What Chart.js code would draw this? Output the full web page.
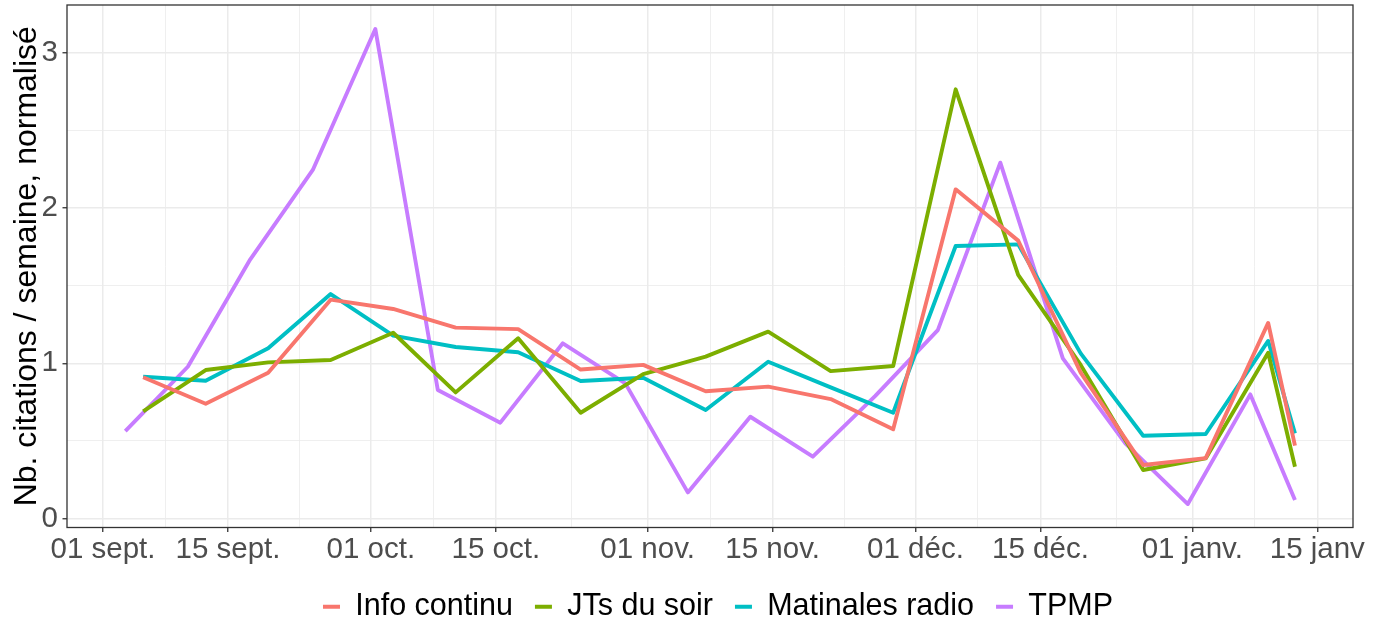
<!DOCTYPE html>
<html>
<head>
<meta charset="utf-8">
<script src="https://cdn.jsdelivr.net/npm/chart.js@4.4.0/dist/chart.umd.min.js"></script>
<style>
 html,body{margin:0;padding:0;background:#fff}
 canvas{display:block}
</style>
</head>
<body>
<canvas id="chart" width="1379" height="621"></canvas>
<script>
/* DATA */
const weeksMedia=["2021-09-05T12:00","2021-09-12T12:00","2021-09-19T12:00","2021-09-26T12:00","2021-10-03T12:00",
 "2021-10-10T12:00","2021-10-17T12:00","2021-10-24T12:00","2021-10-31T12:00","2021-11-07T12:00",
 "2021-11-14T12:00","2021-11-21T12:00","2021-11-28T12:00","2021-12-05T12:00","2021-12-12T12:00",
 "2021-12-19T12:00","2021-12-26T12:00","2022-01-02T12:00","2022-01-09T12:00","2022-01-12T12:00"];
const weeksTpmp=["2021-09-03T12:00","2021-09-10T12:00","2021-09-17T12:00","2021-09-24T12:00","2021-10-01T12:00",
 "2021-10-08T12:00","2021-10-15T12:00","2021-10-22T12:00","2021-10-29T12:00","2021-11-05T12:00",
 "2021-11-12T12:00","2021-11-19T12:00","2021-11-26T12:00","2021-12-03T12:00","2021-12-10T12:00",
 "2021-12-17T12:00","2021-12-24T12:00","2021-12-31T12:00","2022-01-07T12:00","2022-01-12T12:00"];

const infoContinu=[0.91,0.74,0.94,1.41,1.35,1.23,1.22,0.96,0.99,0.82,0.85,0.77,0.575,2.12,1.79,0.94,0.345,0.39,1.26,0.47];
const jtsSoir=[0.69,0.957,1.006,1.021,1.197,0.813,1.161,0.682,0.93,1.043,1.204,0.95,0.983,2.764,1.569,0.99,0.313,0.388,1.068,0.334];
const matinales=[0.914,0.888,1.097,1.446,1.178,1.105,1.071,0.886,0.907,0.699,1.01,0.845,0.682,1.755,1.766,1.064,0.534,0.545,1.144,0.549];
const tpmp=[0.564,0.978,1.67,2.245,3.153,0.828,0.618,1.129,0.871,0.169,0.656,0.399,0.79,1.214,2.292,1.032,0.485,0.094,0.8,0.12];

const seriesNames=["Info continu","JTs du soir","Matinales radio","TPMP"];
const seriesColors=["#F8766D","#7CAE00","#00BFC4","#C77CFF"];

const tickDates=["2021-09-01","2021-09-15","2021-10-01","2021-10-15","2021-11-01","2021-11-15","2021-12-01","2021-12-15","2022-01-01","2022-01-15"];
const tickLabels=["01 sept.","15 sept.","01 oct.","15 oct.","01 nov.","15 nov.","01 déc.","15 déc.","01 janv.","15 janv"];
const yTicks=[0,1,2,3];

/* HELPERS */
const T0=Date.parse("2021-09-01T00:00:00Z");
const dayOf=s=>(Date.parse(s.length>10?s+":00Z":s+"T00:00:00Z")-T0)/864e5;
const pts=(dates,vals)=>vals.map((v,i)=>({x:dayOf(dates[i]),y:v}));

const majorX=tickDates.map(dayOf);
const minorX=majorX.slice(1).map((d,i)=>(d+majorX[i])/2);
const allX=majorX.concat(minorX).sort((a,b)=>a-b);
const minorY=yTicks.slice(1).map(v=>v-0.5);
const allY=yTicks.concat(minorY).sort((a,b)=>a-b);

const FONT="'Liberation Sans', Arial, sans-serif";
const isMajorX=v=>majorX.indexOf(v)>=0;
const isMajorY=v=>yTicks.indexOf(v)>=0;

/* panel border on top, legend nudged to where ggplot puts it */
const panelBorder={
 id:"panelBorder",
 afterLayout(c){
  const l=c.legend;
  if(!l) return;
  l.left+=8; l.right+=8;
  l.top+=1; l.bottom+=1;
 },
 afterDraw(c){
  const a=c.chartArea, ctx=c.ctx;
  ctx.save();
  ctx.strokeStyle="#333333";
  ctx.lineWidth=1.3;
  ctx.strokeRect(a.left,a.top,a.right-a.left,a.bottom-a.top);
  ctx.restore();
 }
};

const data=[pts(weeksMedia,infoContinu),pts(weeksMedia,jtsSoir),pts(weeksMedia,matinales),pts(weeksTpmp,tpmp)];

new Chart(document.getElementById("chart"),{
 type:"line",
 data:{datasets:data.map((d,i)=>({
  label:seriesNames[i],
  data:d,
  borderColor:seriesColors[i],
  backgroundColor:seriesColors[i],
  borderWidth:3.9,
  borderCapStyle:"butt",
  borderJoinStyle:"round",
  pointRadius:0,
  tension:0,
  fill:false
 }))},
 options:{
  responsive:false,
  animation:false,
  devicePixelRatio:1,
  layout:{padding:{top:5,right:26,left:0,bottom:0}},
  plugins:{
   tooltip:{enabled:false},
   legend:{
    position:"bottom",
    fullSize:false,
    maxHeight:52.5,
    labels:{
     font:{family:FONT,size:30.5},
     color:"#000",
     boxWidth:17,
     boxHeight:4,
     padding:22,
     generateLabels:c=>c.data.datasets.map((d,i)=>({
      text:d.label,fillStyle:d.borderColor,strokeStyle:d.borderColor,lineWidth:0,hidden:false,datasetIndex:i,fontColor:"#000"
     }))
    }
   }
  },
  scales:{
   x:{
    type:"linear",
    min:-4.03,max:140.0,bounds:"data",
    afterBuildTicks:s=>{s.ticks=allX.map(v=>({value:v}));},
    afterFit:s=>{s.height=41;s.paddingLeft=0;s.paddingRight=0;},
    ticks:{
     autoSkip:false,maxRotation:0,minRotation:0,padding:0,
     color:"#4D4D4D",font:{family:FONT,size:29.5},
     callback:v=>{const k=majorX.indexOf(v);return k>=0?tickLabels[k]:"";}
    },
    grid:{
     color:"#EBEBEB",
     lineWidth:c=>c.tick&&isMajorX(c.tick.value)?1.5:0.8,
     tickColor:c=>c.tick&&isMajorX(c.tick.value)?"#333333":"rgba(0,0,0,0)",
     tickLength:4.5,tickWidth:1.3
    },
    border:{display:false}
   },
   y:{
    type:"linear",
    min:-0.057,max:3.307,bounds:"data",
    afterBuildTicks:s=>{s.ticks=allY.map(v=>({value:v}));},
    afterFit:s=>{s.width=67;s.paddingTop=0;s.paddingBottom=0;},
    ticks:{
     padding:4.5,color:"#4D4D4D",font:{family:FONT,size:29.5},
     callback:v=>isMajorY(v)?String(v):""
    },
    grid:{
     color:"#EBEBEB",
     lineWidth:c=>c.tick&&isMajorY(c.tick.value)?1.5:0.8,
     tickColor:c=>c.tick&&isMajorY(c.tick.value)?"#333333":"rgba(0,0,0,0)",
     tickLength:4.5,tickWidth:1.3
    },
    border:{display:false},
    title:{
     display:true,text:"Nb. citations / semaine, normalisé",
     color:"#000",font:{family:FONT,size:32},padding:{top:8,bottom:0}
    }
   }
  }
 },
 plugins:[panelBorder]
});
</script>
</body>
</html>
